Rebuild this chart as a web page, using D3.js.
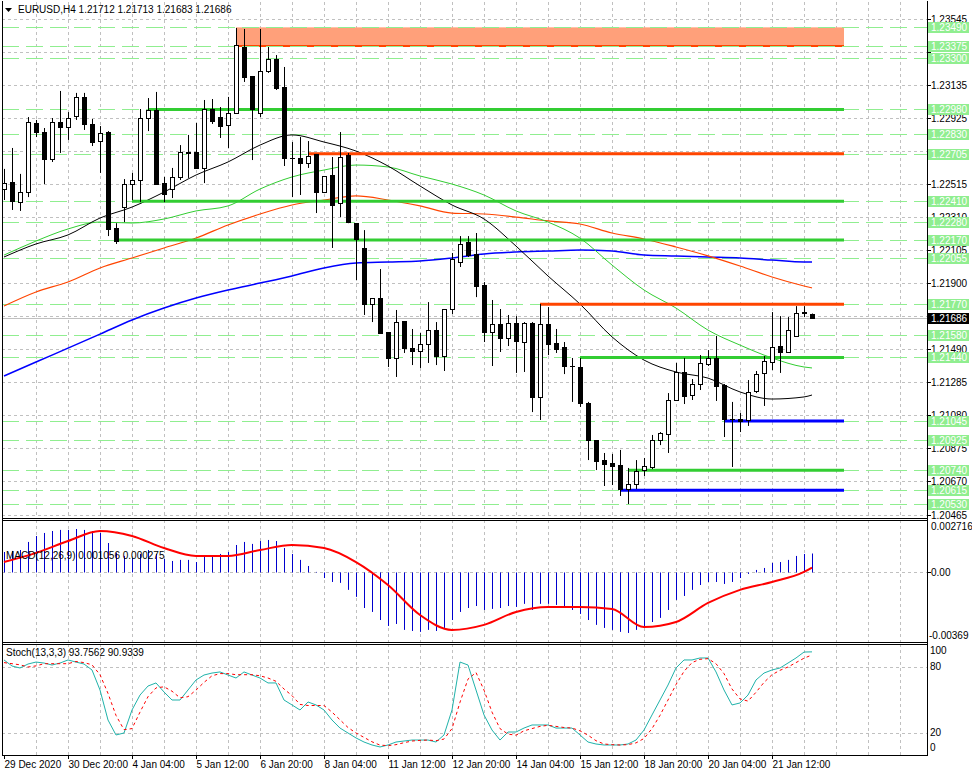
<!DOCTYPE html>
<html><head><meta charset="utf-8">
<script src="https://cdn.jsdelivr.net/npm/d3@7/dist/d3.min.js"></script>
<style>
body{margin:0;background:#fff}
text{font-family:"Liberation Sans",Arial,sans-serif;font-size:10px;fill:#000}
</style>
</head><body>
<svg id="c" width="972" height="776"></svg>
<script>
// ---------------- DATA ----------------
const symbolTitle = "EURUSD,H4  1.21712 1.21713 1.21683 1.21686";
const timeLabels = ["29 Dec 2020","30 Dec 20:00","4 Jan 04:00","5 Jan 12:00","6 Jan 20:00","8 Jan 04:00","11 Jan 12:00","12 Jan 20:00","14 Jan 04:00","15 Jan 12:00","18 Jan 20:00","20 Jan 04:00","21 Jan 12:00"];
const priceTicks = ["1.20465","1.20670","1.20875","1.21080","1.21285","1.21490","1.21695","1.21900","1.22105","1.22310","1.22515","1.22720","1.22925","1.23135","1.23340","1.23545"];
// tick labels that are fully covered by level boxes in the reference
const hiddenTicks = ["1.21695","1.22720","1.23340"];

const openP = [1.22486,1.22530,1.22405,1.22467,1.22896,1.22840,1.22672,1.22902,1.22871,1.22940,
1.23058,1.22890,1.22784,1.22840,1.22243,1.22374,1.22517,1.22542,1.22927,1.22977,
1.22523,1.22486,1.22561,1.22716,1.22716,1.22617,1.22983,1.22933,1.22884,1.22958,
1.23368,1.23188,1.22958,1.23219,1.23294,1.23119,1.22680,1.22680,1.22648,1.22704,
1.22467,1.22573,1.22399,1.22697,1.22274,1.22120,1.21772,1.21809,1.21598,1.21437,
1.21666,1.21499,1.21480,1.21524,1.21611,1.21449,1.21741,1.22033,1.22157,1.22083,
1.21890,1.21598,1.21648,1.21561,1.21654,1.21536,1.21654,1.21195,1.21648,1.21530,
1.21505,1.21387,1.21381,1.21157,1.20927,1.20803,1.20785,1.20772,1.20623,1.20654,
1.20741,1.20760,1.20927,1.20965,1.21176,1.21350,1.21207,1.21275,1.21400,1.21437,
1.21269,1.21058,1.21058,1.21052,1.21232,1.21344,1.21412,1.21511,1.21474,1.21574,
1.21722,1.21712];
const highP = [1.22611,1.22741,1.22580,1.22933,1.22915,1.22865,1.22927,1.23095,1.22964,1.23083,
1.23083,1.22921,1.22877,1.22846,1.22274,1.22548,1.22586,1.22983,1.23051,1.23089,
1.22561,1.22617,1.22759,1.22822,1.22896,1.23039,1.23045,1.22995,1.23058,1.23486,
1.23480,1.23188,1.23480,1.23368,1.23318,1.23244,1.22778,1.22809,1.22784,1.22704,
1.22567,1.22685,1.22840,1.22710,1.22274,1.22231,1.21809,1.21989,1.21598,1.21735,
1.21666,1.21617,1.21592,1.21784,1.21660,1.21741,1.22089,1.22194,1.22194,1.22213,
1.21908,1.21797,1.21741,1.21704,1.21697,1.21660,1.21660,1.21772,1.21753,1.21617,
1.21536,1.21437,1.21437,1.21164,1.20927,1.20847,1.20841,1.20866,1.20754,1.20803,
1.20816,1.20959,1.20977,1.21219,1.21406,1.21437,1.21306,1.21455,1.21486,1.21574,
1.21275,1.21164,1.21095,1.21300,1.21356,1.21449,1.21722,1.21697,1.21691,1.21759,
1.21759,1.21713];
const lowP = [1.22418,1.22356,1.22350,1.22436,1.22809,1.22517,1.22654,1.22710,1.22791,1.22915,
1.22853,1.22753,1.22586,1.22194,1.22145,1.22281,1.22418,1.22405,1.22846,1.22511,
1.22405,1.22430,1.22542,1.22555,1.22611,1.22523,1.22890,1.22803,1.22741,1.22958,
1.23151,1.22666,1.22933,1.23207,1.23101,1.22629,1.22436,1.22449,1.22617,1.22337,
1.22461,1.22120,1.22312,1.22274,1.21921,1.21704,1.21660,1.21592,1.21381,1.21319,
1.21468,1.21393,1.21375,1.21406,1.21393,1.21356,1.21710,1.22002,1.22064,1.21815,
1.21536,1.21387,1.21474,1.21511,1.21344,1.21350,1.21101,1.21052,1.21455,1.21468,
1.21337,1.21164,1.21133,1.20803,1.20741,1.20642,1.20648,1.20580,1.20530,1.20623,
1.20704,1.20747,1.20896,1.20847,1.21170,1.21151,1.21176,1.21238,1.21387,1.21170,
1.20946,1.20760,1.20977,1.21015,1.21219,1.21139,1.21362,1.21344,1.21468,1.21568,
1.21691,1.21683];
const closeP = [1.22523,1.22412,1.22467,1.22902,1.22840,1.22672,1.22902,1.22871,1.22927,1.23058,
1.22890,1.22778,1.22834,1.22237,1.22163,1.22517,1.22542,1.22927,1.22977,1.22517,
1.22455,1.22561,1.22716,1.22710,1.22617,1.22983,1.22908,1.22877,1.22958,1.23380,
1.23182,1.22983,1.23219,1.23294,1.23113,1.22680,1.22678,1.22648,1.22691,1.22467,
1.22567,1.22387,1.22685,1.22281,1.22176,1.21772,1.21809,1.21592,1.21437,1.21660,
1.21499,1.21480,1.21524,1.21611,1.21449,1.21741,1.22051,1.22145,1.22076,1.21883,
1.21598,1.21648,1.21561,1.21654,1.21543,1.21654,1.21195,1.21648,1.21524,1.21492,
1.21387,1.21385,1.21157,1.20927,1.20797,1.20779,1.20766,1.20623,1.20654,1.20735,
1.20766,1.20927,1.20971,1.21176,1.21350,1.21201,1.21275,1.21406,1.21437,1.21263,
1.21058,1.21055,1.21046,1.21226,1.21337,1.21418,1.21505,1.21474,1.21611,1.21716,
1.21716,1.21686];

// moving averages, read at these bar indices
const maIdx = [0,4,8,12,16,20,24,28,32,36,40,44,48,52,56,60,64,68,72,76,80,84,88,92,96,100,101];
const maBlack = [1.22064,1.22145,1.22201,1.22306,1.22374,1.22467,1.22573,1.22654,1.22759,1.22822,1.22778,1.22722,1.22629,1.22505,1.22387,1.22300,1.22132,1.21946,1.21772,1.21568,1.21424,1.21350,1.21312,1.21226,1.21182,1.21195,1.21207];
const maGreen = [1.22076,1.22163,1.22238,1.22281,1.22275,1.22300,1.22350,1.22381,1.22486,1.22561,1.22604,1.22635,1.22623,1.22567,1.22517,1.22449,1.22350,1.22281,1.22181,1.22014,1.21859,1.21747,1.21610,1.21517,1.21437,1.21381,1.21375];
const maOrange = [1.21760,1.21847,1.21909,1.21996,1.22058,1.22120,1.22182,1.22263,1.22331,1.22387,1.22418,1.22443,1.22418,1.22381,1.22337,1.22331,1.22312,1.22288,1.22269,1.22213,1.22176,1.22126,1.22071,1.22008,1.21940,1.21884,1.21872];
const maBlue = [1.21325,1.21412,1.21498,1.21585,1.21673,1.21747,1.21809,1.21859,1.21902,1.21946,1.21996,1.22027,1.22033,1.22039,1.22058,1.22083,1.22095,1.22101,1.22107,1.22101,1.22076,1.22070,1.22064,1.22058,1.22045,1.22033,1.22033];

// horizontal levels
const dashedLevels = [1.23490,1.23375,1.23300,1.22980,1.22830,1.22705,1.22410,1.22280,1.22170,1.22055,1.21770,1.21580,1.21440,1.21045,1.20925,1.20740,1.20615,1.20530];
const greenLevels = [1.22980,1.22410,1.22170,1.21440,1.20740];
const greenStart = [18,16,14,72,78];
const redLevels = [1.22705,1.21770];
const redStart = [38,67];
const blueLevels = [1.21045,1.20615];
const blueStart = [90,77];
const zoneLow = 1.23375, zoneHigh = 1.23490, zoneStart = 29;

// MACD
const macdTitle = "MACD(12,26,9) 0.001056 0.000275";
const macdHist = [0.00114,0.00120,0.00125,0.00170,0.00203,0.00220,0.00231,0.00237,0.00237,0.00242,
0.00237,0.00231,0.00220,0.00164,0.00109,0.00092,0.00081,0.00103,0.00125,0.00103,
0.00075,0.00064,0.00070,0.00070,0.00058,0.00086,0.00097,0.00103,0.00114,0.00153,
0.00170,0.00159,0.00175,0.00181,0.00175,0.00136,0.00103,0.00070,0.00036,0.00003,
-0.00031,-0.00053,-0.00058,-0.00097,-0.00136,-0.00198,-0.00220,-0.00265,-0.00298,-0.00287,
-0.00320,-0.00326,-0.00331,-0.00320,-0.00326,-0.00309,-0.00265,-0.00220,-0.00198,-0.00187,
-0.00209,-0.00203,-0.00198,-0.00187,-0.00192,-0.00175,-0.00209,-0.00175,-0.00175,-0.00181,
-0.00198,-0.00209,-0.00231,-0.00265,-0.00292,-0.00309,-0.00320,-0.00331,-0.00337,-0.00320,
-0.00309,-0.00276,-0.00253,-0.00209,-0.00153,-0.00131,-0.00097,-0.00070,-0.00053,-0.00053,
-0.00064,-0.00053,-0.00031,-0.00008,0.00014,0.00025,0.00053,0.00058,0.00070,0.00092,
0.00103,0.001056];
const macdSig = [0.00058,0.00109,0.00175,0.00231,0.00203,0.00136,0.00092,0.00092,0.00125,0.00153,0.00136,0.00058,-0.00070,-0.00237,-0.00320,-0.00292,-0.00220,-0.00192,-0.00192,-0.00203,-0.00304,-0.00276,-0.00170,-0.00097,-0.00053,0.00003,0.000275];
const macdLabels = ["0.002716","0.00","-0.00369"];

// Stochastic
const stochTitle = "Stoch(13,3,3) 93.7562 90.9339";
const stochMain = [86.4,80.9,79.1,82.7,84.5,83.6,81.8,83.6,86.4,84.5,
82.7,77.3,59.1,31.8,18.2,20.0,40.9,54.5,62.7,65.5,
57.3,50.0,50.0,59.1,68.2,72.7,74.5,75.5,72.7,70.0,
75.5,72.7,70.0,65.5,65.5,50.0,45.5,40.9,48.2,45.5,
40.9,31.8,24.5,20.0,15.5,11.8,9.1,7.3,9.1,11.8,
12.7,13.6,13.6,13.6,11.8,18.2,40.9,84.5,81.8,59.1,
36.4,22.7,13.6,20.9,20.9,24.5,27.3,27.3,27.3,24.5,
24.5,24.5,18.2,11.8,10.0,9.1,9.1,9.1,10.0,13.6,
22.7,36.4,50.0,63.6,79.1,86.4,86.4,88.2,88.2,75.5,
59.1,45.5,47.3,54.5,68.2,74.5,77.3,79.1,83.6,88.2,
93.6,93.7562];
const stochSig = [84,83,82,80,81,83,83,83,83,85,
84,82,73,56,36,23,24,39,53,61,
62,58,52,53,59,66,72,74,74,73,
73,73,72,70,67,60,54,46,45,45,
45,39,32,25,20,16,12,9,8.5,9.4,
11.2,12.7,13.3,13.6,13,14.5,24,48,69,75,
59,39,24,19,18,22,24,26,27,26,
25,24.5,22,18,13,10,9.4,9.1,9.4,11,
15,24,36,50,64,76,84,87,87.6,83,
74,60,51,49,57,66,73,77,80,84,
88,90.9339];
const stochLabels = ["100","80","20","0"];

// ---------------- DRAWING ----------------
const svg = d3.select("#c");
const L = 2, R = 927;
const mainTop = 2, mainBot = 518, macdTop = 520, macdBot = 642, stTop = 644, stBot = 755;

const x = d3.scaleLinear().domain([0, 1]).range([4, 12]);
const y = d3.scaleLinear().domain([1.20465, 1.23545]).range([514.5, 18.5]);
const yM = d3.scaleLinear().domain([-0.00369, 0.002716]).range([638.7, 523.7]);
const yS = d3.scaleLinear().domain([0, 100]).range([755, 645]);
const lineEnd = 844;

svg.append("rect").attr("width", 972).attr("height", 776).attr("fill", "#fff");
const defs = svg.append("defs");
defs.append("clipPath").attr("id", "cm").append("rect").attr("x", L).attr("y", mainTop).attr("width", R - L).attr("height", mainBot - mainTop);
defs.append("clipPath").attr("id", "cd").append("rect").attr("x", L).attr("y", macdTop).attr("width", R - L).attr("height", macdBot - macdTop);
defs.append("clipPath").attr("id", "cs").append("rect").attr("x", L).attr("y", stTop).attr("width", R - L).attr("height", stBot - stTop);

const gridCol = "#c0c0c0";
// vertical grid
const vg = svg.append("g");
const nBars = Math.floor((R - 4) / 8);
for (let k = 4; k <= nBars; k += 4) {
  const xx = Math.round(x(k)) + 0.5;
  [[mainTop, mainBot], [macdTop, macdBot], [stTop, stBot]].forEach(([a, b]) => {
    vg.append("line").attr("x1", xx).attr("x2", xx).attr("y1", a).attr("y2", b)
      .attr("stroke", gridCol).attr("stroke-dasharray", "3,3");
  });
}
// horizontal grid main
priceTicks.forEach(t => {
  const yy = Math.round(y(+t)) + 0.5;
  svg.append("line").attr("x1", L).attr("x2", R).attr("y1", yy).attr("y2", yy)
    .attr("stroke", gridCol).attr("stroke-dasharray", "3,3");
});
// MACD zero grid
svg.append("line").attr("x1", L).attr("x2", R).attr("y1", Math.round(yM(0)) + 0.5).attr("y2", Math.round(yM(0)) + 0.5)
  .attr("stroke", gridCol).attr("stroke-dasharray", "3,3");
// stoch 80/20 grid
[80, 20].forEach(v => {
  const yy = Math.round(yS(v)) + 0.5;
  svg.append("line").attr("x1", L).attr("x2", R).attr("y1", yy).attr("y2", yy)
    .attr("stroke", gridCol).attr("stroke-dasharray", "3,3");
});

// main panel content
const gm = svg.append("g").attr("clip-path", "url(#cm)");
gm.append("rect").attr("x", x(zoneStart)).attr("y", y(zoneHigh)).attr("width", lineEnd - x(zoneStart))
  .attr("height", y(zoneLow) - y(zoneHigh)).attr("fill", "#ffa07a");
gm.append("line").attr("x1", x(zoneStart)).attr("x2", lineEnd).attr("y1", y(zoneLow)).attr("y2", y(zoneLow))
  .attr("stroke", "#ff4500").attr("stroke-width", 2);
dashedLevels.forEach(p => {
  const yy = Math.round(y(p)) + 0.5;
  gm.append("line").attr("x1", L).attr("x2", R).attr("y1", yy).attr("y2", yy)
    .attr("stroke", "#90ee90").attr("stroke-width", 1).attr("stroke-dasharray", "17,7");
});
gm.append("line").attr("x1", L).attr("x2", R).attr("y1", Math.round(y(closeP[closeP.length - 1])) + 0.5)
  .attr("y2", Math.round(y(closeP[closeP.length - 1])) + 0.5).attr("stroke", "#c0c0c0");

const maLine = d3.line().x((d, i) => x(maIdx[i])).y(d => y(d)).curve(d3.curveMonotoneX);
[[maBlue, "#0000ff", 1.5], [maOrange, "#ff4500", 1.2], [maGreen, "#32cd32", 1], [maBlack, "#000", 1]].forEach(([arr, col, w]) => {
  gm.append("path").attr("d", maLine(arr)).attr("fill", "none").attr("stroke", col).attr("stroke-width", w);
});

function thick(levels, starts, col) {
  levels.forEach((p, i) => {
    gm.append("line").attr("x1", x(starts[i])).attr("x2", lineEnd).attr("y1", y(p)).attr("y2", y(p))
      .attr("stroke", col).attr("stroke-width", 3);
  });
}
thick(greenLevels, greenStart, "#32cd32");
thick(redLevels, redStart, "#ff4500");
thick(blueLevels, blueStart, "#0000ff");

openP.forEach((o, i) => {
  const c = closeP[i], h = highP[i], l = lowP[i];
  const cx = Math.round(x(i)) + 0.5;
  gm.append("line").attr("x1", cx).attr("x2", cx).attr("y1", y(h)).attr("y2", y(l)).attr("stroke", "#000");
  const top = Math.round(y(Math.max(o, c))) + 0.5, bot = Math.round(y(Math.min(o, c))) + 0.5;
  const bull = c > o;
  if (bot - top < 1) {
    gm.append("line").attr("x1", cx - 2.5).attr("x2", cx + 2.5).attr("y1", top).attr("y2", top).attr("stroke", "#000");
  } else {
    gm.append("rect").attr("x", cx - 2).attr("y", top).attr("width", 4).attr("height", bot - top)
      .attr("fill", bull ? "#fff" : "#000").attr("stroke", "#000");
  }
});

// MACD
const gd = svg.append("g").attr("clip-path", "url(#cd)");
macdHist.forEach((v, i) => {
  const cx = Math.round(x(i)) + 0.5;
  gd.append("line").attr("x1", cx).attr("x2", cx).attr("y1", yM(0)).attr("y2", yM(v)).attr("stroke", "#0000cd");
});
gd.append("path").attr("d", d3.line().x((d, i) => x(maIdx[i])).y(d => yM(d)).curve(d3.curveMonotoneX)(macdSig))
  .attr("fill", "none").attr("stroke", "#ff0000").attr("stroke-width", 2);

// Stoch
const gs = svg.append("g").attr("clip-path", "url(#cs)");
gs.append("path").attr("d", d3.line().x((d, i) => x(i)).y(d => yS(d))(stochMain))
  .attr("fill", "none").attr("stroke", "#20b2aa").attr("stroke-width", 1);
gs.append("path").attr("d", d3.line().x((d, i) => x(i)).y(d => yS(d))(stochSig))
  .attr("fill", "none").attr("stroke", "#ff0000").attr("stroke-width", 1).attr("stroke-dasharray", "3,3");

// borders
const bc = "#000";
svg.append("line").attr("x1", L + 0.5).attr("x2", L + 0.5).attr("y1", 1).attr("y2", stBot).attr("stroke", bc);
svg.append("line").attr("x1", R + 0.5).attr("x2", R + 0.5).attr("y1", 1).attr("y2", stBot).attr("stroke", bc);
[mainBot, macdTop, macdBot, stTop, stBot].forEach(yy => {
  svg.append("line").attr("x1", L).attr("x2", R + 1).attr("y1", yy + 0.5).attr("y2", yy + 0.5).attr("stroke", bc);
});

// price axis labels
priceTicks.forEach(t => {
  const yy = Math.round(y(+t)) + 0.5;
  svg.append("line").attr("x1", R).attr("x2", R + 4).attr("y1", yy).attr("y2", yy).attr("stroke", bc);
  if (!hiddenTicks.includes(t))
    svg.append("text").attr("x", 931).attr("y", yy + 0.5).attr("dominant-baseline", "middle").text(t);
});
dashedLevels.forEach(p => {
  const yy = Math.round(y(p)) + 0.5;
  svg.append("rect").attr("x", 928).attr("y", yy - 5.5).attr("width", 41).attr("height", 11).attr("fill", "#90ee90");
  svg.append("text").attr("x", 931).attr("y", yy + 0.5).attr("dominant-baseline", "middle").style("fill", "#fff").text(p.toFixed(5));
});
{
  const cp = closeP[closeP.length - 1];
  const yy = Math.round(y(cp)) + 0.5;
  svg.append("rect").attr("x", 928).attr("y", yy - 5.5).attr("width", 41).attr("height", 11).attr("fill", "#000");
  svg.append("text").attr("x", 931).attr("y", yy + 0.5).attr("dominant-baseline", "middle").style("fill", "#fff").text(cp.toFixed(5));
}

// MACD axis labels
[[macdLabels[0], 527], [macdLabels[1], yM(0) + 0.5], [macdLabels[2], 636]].forEach(([t, yy], i) => {
  svg.append("text").attr("x", i === 2 ? 929 : 931).attr("y", yy).attr("dominant-baseline", "middle").text(t);
});
svg.append("line").attr("x1", R).attr("x2", R + 4).attr("y1", Math.round(yM(0)) + 0.5).attr("y2", Math.round(yM(0)) + 0.5).attr("stroke", bc);
const stPos = [651, yS(80) + 0.5, yS(20) + 0.5, 748];
stochLabels.forEach((t, i) => {
  svg.append("text").attr("x", 930).attr("y", stPos[i]).attr("dominant-baseline", "middle").text(t);
});

// titles
svg.append("path").attr("d", "M5,8 L12,8 L8.5,12 Z").attr("fill", "#000");
svg.append("text").attr("x", 18).attr("y", 10.5).attr("dominant-baseline", "middle").text(symbolTitle);
svg.append("text").attr("x", 6).attr("y", 556).attr("dominant-baseline", "middle").text(macdTitle);
svg.append("text").attr("x", 6).attr("y", 653).attr("dominant-baseline", "middle").text(stochTitle);

// time axis
timeLabels.forEach((t, j) => {
  const xx = Math.round(x(j * 8)) + 0.5;
  svg.append("line").attr("x1", xx).attr("x2", xx).attr("y1", stBot).attr("y2", stBot + 4).attr("stroke", bc);
  svg.append("text").attr("x", xx).attr("y", 765.5).attr("dominant-baseline", "middle").text(t);
});
</script>
</body></html>
